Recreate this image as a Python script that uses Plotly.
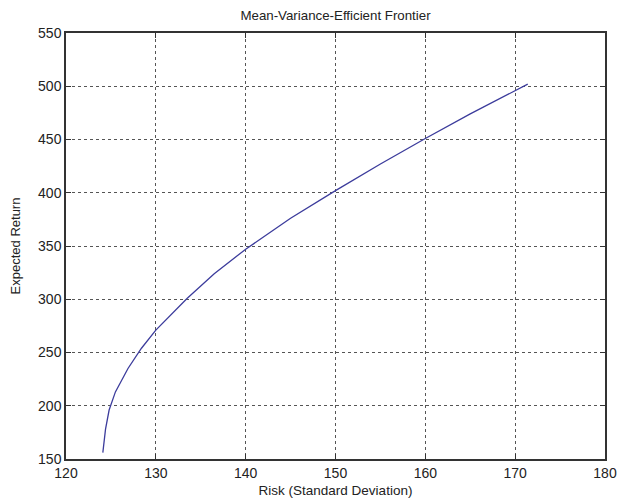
import plotly.graph_objects as go

risk = [124.1, 124.4, 124.8, 125.5, 126.9, 128.4, 130.0, 133.5, 136.5, 140.0, 145.0, 150.0, 155.0, 160.0, 165.0, 171.4]
expected_return = [156, 178, 196, 213, 235, 254, 271, 301, 324, 347, 376, 402, 427, 451, 474, 502]

x_ticks = [120, 130, 140, 150, 160, 170, 180]
y_ticks = [150, 200, 250, 300, 350, 400, 450, 500, 550]

font_family = "Liberation Sans, Arial, Helvetica, sans-serif"

fig = go.Figure()
fig.add_trace(go.Scatter(x=risk, y=expected_return, mode="lines",
                         line=dict(color="#3c3c9c", width=1.3), showlegend=False))

axis_common = dict(showline=True, linecolor="#333333", linewidth=1.5, mirror="ticks",
                   ticks="inside", ticklen=5, tickcolor="#333333",
                   showgrid=True, gridcolor="#555555", griddash="dot", gridwidth=1,
                   zeroline=False, automargin=False,
                   tickfont=dict(size=14, color="#222222", family=font_family))

fig.update_layout(
    width=618, height=496,
    paper_bgcolor="white", plot_bgcolor="white",
    margin=dict(l=58, r=21, t=25, b=45),
    font=dict(family=font_family, color="#222222"),
    title=dict(text="Mean-Variance-Efficient Frontier", x=0.5, xref="paper", xanchor="center",
               y=1, yref="container", yanchor="top", pad=dict(t=3),
               font=dict(size=13.3, family=font_family)),
    xaxis=dict(range=[120, 180], tickvals=x_ticks,
               title=dict(text="Risk (Standard Deviation)", font=dict(size=13.5), standoff=6),
               **axis_common),
    yaxis=dict(range=[150, 550], tickvals=y_ticks,
               title=dict(text="Expected Return", font=dict(size=13), standoff=16),
               **axis_common),
)

fig.write_html("out.html")
